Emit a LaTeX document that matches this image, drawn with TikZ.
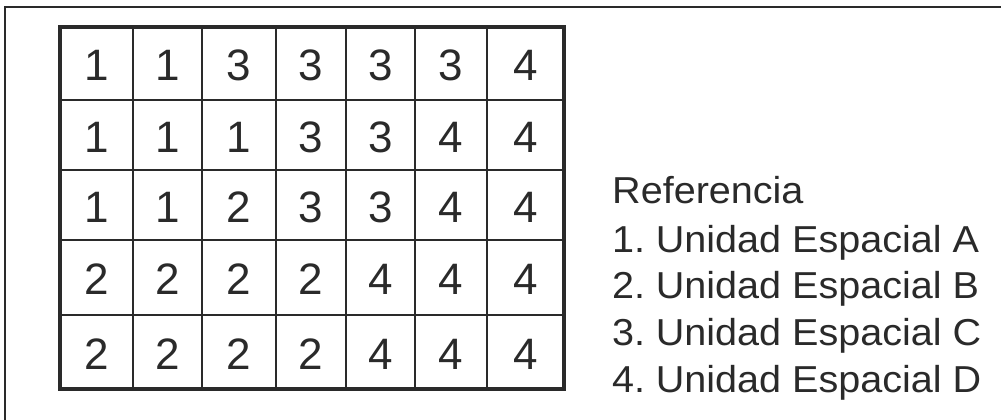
\documentclass[tikz,border=0pt]{standalone}
\usepackage{fontspec}
\setmainfont{Liberation Sans}
\newfontfamily\legfont[FakeStretch=1.055]{Liberation Sans}
\definecolor{ink}{HTML}{2A2A2A}
\begin{document}
\begin{tikzpicture}[x=1pt,y=-1pt,
  frameline/.style={draw=ink,line width=1.8pt},
  gridline/.style={draw=ink,line width=1.7pt},
  gridborder/.style={draw=ink,line width=3.4pt,line join=miter},
  digit/.style={text=ink,font=\fontsize{44}{44}\selectfont,inner sep=0pt,anchor=center},
  legend/.style={text=ink,font=\legfont\fontsize{37.5}{37.5}\selectfont,inner sep=0pt,anchor=base west}]
\useasboundingbox (0,0) rectangle (1001,420);
\fill[white] (0,0) rectangle (1001,420);
% outer frame (only top and left visible)
\draw[frameline] (5,422) -- (5,7) -- (1003,7);
% grid lines
\foreach \x in {133,202,276,346,415,487} \draw[gridline] (\x,27) -- (\x,389);
\foreach \y in {100,170,240,315} \draw[gridline] (60,\y) -- (564,\y);
\draw[gridborder] (60,27) rectangle (564,389);
% digits
\def\colc{{96.5,167.5,239,311,380.5,451,525.5}}
\def\rowc{{65.5,137,207,279.5,354}}
\foreach \r/\vals in {0/{1,1,3,3,3,3,4},1/{1,1,1,3,3,4,4},2/{1,1,2,3,3,4,4},3/{2,2,2,2,4,4,4},4/{2,2,2,2,4,4,4}}{
  \foreach \v [count=\c from 0] in \vals {
    \pgfmathsetmacro{\cx}{\colc[\c]}
    \pgfmathsetmacro{\cy}{\rowc[\r]}
    \node[digit] (d\r\c) at (\cx,\cy) {\v};
  }
}
% legend
\node[legend] (ref) at (612,203) {Referencia};
\node[legend] (la) at (612,252) {1. \kern-4pt Unidad Espacial A};
\node[legend] (lb) at (612,298) {2. \kern-4pt Unidad Espacial B};
\node[legend] (lc) at (612,345) {3. \kern-4pt Unidad Espacial C};
\node[legend] (ld) at (612,392) {4. \kern-4pt Unidad Espacial D};
\end{tikzpicture}
\end{document}
